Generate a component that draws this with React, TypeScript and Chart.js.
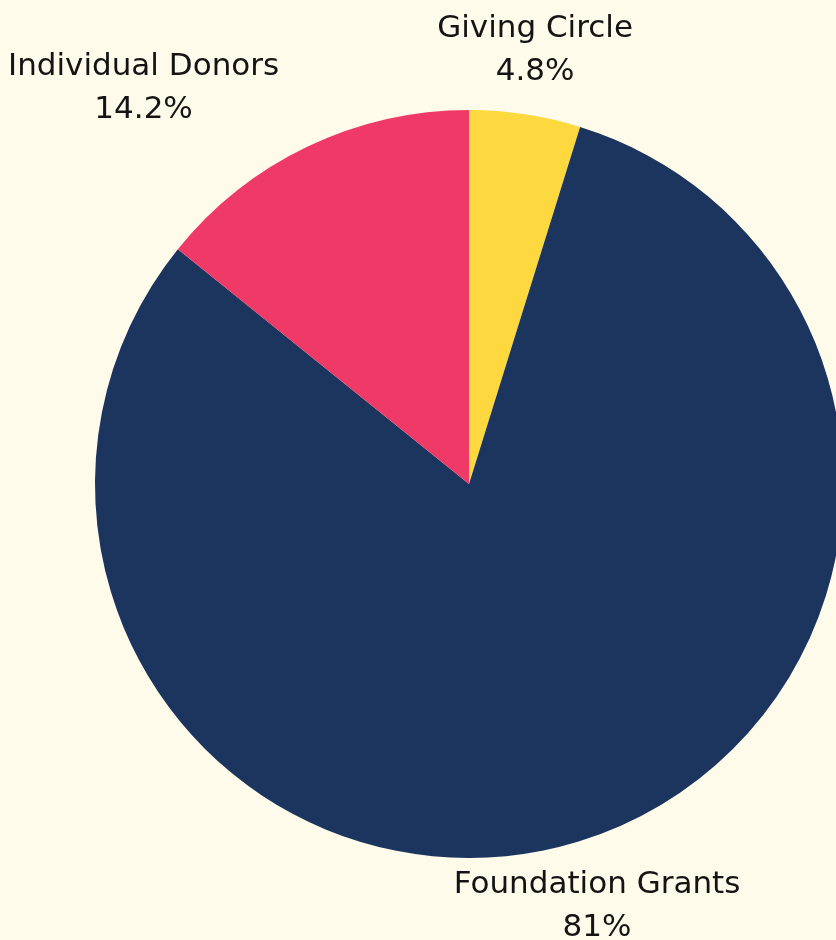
import React, { useEffect, useRef } from "react";
import { Chart, registerables } from "chart.js";

Chart.register(...registerables);

const categories = ["Giving Circle", "Foundation Grants", "Individual Donors"];
const shares = [4.8, 81, 14.2];
const shareLabels = ["4.8%", "81%", "14.2%"];
const colors = ["#FDD83F", "#1C355E", "#EF3966"];

const BG = "#FFFBEB";

const outsideLabels = {
  id: "outsideLabels",
  afterDatasetsDraw(chart: any) {
    const ctx = chart.ctx;
    const meta = chart.getDatasetMeta(0);
    ctx.save();
    ctx.fillStyle = "#141414";
    ctx.font = "31px 'DejaVu Sans', sans-serif";
    ctx.textBaseline = "middle";
    ctx.textAlign = "center";
    meta.data.forEach((arc: any, i: number) => {
      const mid = (arc.startAngle + arc.endAngle) / 2;
      const r = arc.outerRadius + 66;
      const x = arc.x + Math.cos(mid) * r;
      const y = arc.y + Math.sin(mid) * r;
      const c = Math.cos(mid);
      const w = Math.max(ctx.measureText(categories[i]).width, ctx.measureText(shareLabels[i]).width);
      let cx = x;
      if (c < -0.35) cx = x - w / 2;
      else if (c > 0.35) cx = x + w / 2;
      ctx.fillText(categories[i], cx, y - 20);
      ctx.fillText(shareLabels[i], cx, y + 23);
    });
    ctx.restore();
  },
};

export default function App() {
  const ref = useRef<HTMLCanvasElement | null>(null);
  useEffect(() => {
    document.body.style.margin = "0";
    document.body.style.background = BG;
    document.body.style.overflow = "hidden";
    const chart = new Chart(ref.current as HTMLCanvasElement, {
      type: "pie",
      data: {
        labels: categories,
        datasets: [
          {
            data: shares,
            backgroundColor: colors,
            borderWidth: 0,
          },
        ],
      },
      options: {
        animation: false,
        responsive: false,
        maintainAspectRatio: false,
        layout: { padding: { left: 95, right: 95, top: 110, bottom: 110 } },
        plugins: {
          legend: { display: false },
          tooltip: { enabled: false },
        },
      },
      plugins: [outsideLabels],
    });
    return () => chart.destroy();
  }, []);
  return (
    <div style={{ position: "fixed", left: 0, top: 0, width: 836, height: 940, overflow: "hidden", background: BG }}>
      <canvas ref={ref} width={938} height={968} style={{ width: 938, height: 968, display: "block" }} />
    </div>
  );
}
